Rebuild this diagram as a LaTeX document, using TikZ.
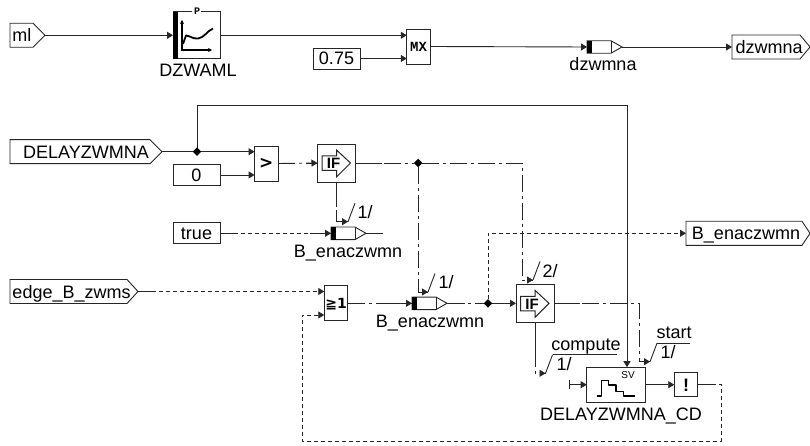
\documentclass[tikz,border=0pt]{standalone}
\usepackage{fontspec}
\setmainfont{Liberation Sans}
\newfontfamily\djv{DejaVu Sans}
\newfontfamily\lmono{Liberation Mono}
\usetikzlibrary{arrows.meta,shapes.geometric,calc}
\tikzset{
  x=1pt,y=-1pt,
  every node/.style={font=\fontsize{18}{20}\selectfont,inner sep=0pt,outer sep=0pt,text height=13pt,text depth=0pt},
  wire/.style={line width=0.9pt,draw=black!85},
  arr/.style={-{Stealth[length=6pt,width=7pt,inset=0pt]}},
  dashdot/.style={dash pattern=on 17pt off 4pt on 3pt off 4pt},
  dots/.style={dash pattern=on 4pt off 3pt},
  bx/.style={draw=black!85,line width=0.9pt,fill=white,minimum width=#1,rectangle},
  port/.style={rectangle,minimum height=24pt,minimum width=#1},
  mini/.style={font=\lmono\bfseries\fontsize{#1}{#1}\selectfont,text height=0.62*#1,text depth=0pt},
  junc/.style={diamond,fill=black,minimum size=8.5pt,text height=0pt},
  thickicon/.style={line width=1.8pt,line join=round},
  busline/.style={line width=0.9pt,draw=black!85},
}
\newcommand\pentagon[2]{\draw[wire,fill=white] (#1.north west) -- ([xshift=-#2pt]#1.north east) -- (#1.east) -- ([xshift=-#2pt]#1.south east) -- (#1.south west) -- cycle;}
\newcommand\regblock[3]{%
  \node[rectangle,minimum width=35pt,minimum height=12.5pt,text height=0pt,anchor=west] (#1) at (#2,#3) {};
  \draw[wire,fill=white] (#1.north west) -- ++(24,0) -- (#1.east) -- ($(#1.south west)+(24,0)$) -- (#1.south west) -- cycle;
  \draw[wire] ($(#1.north west)+(24,0)$) -- ($(#1.south west)+(24,0)$);
  \fill[black] (#1.north west) rectangle ($(#1.south west)+(5,0)$);
}
\newcommand\ifblock[3]{%
  \node[bx=38pt,minimum height=38pt,text height=0pt] (#1) at (#2,#3) {};
  \begin{scope}[shift={(#2,#3)}]
    \draw[wire,line width=1pt] (-14.5,-7) -- (0,-7) -- (0,-13) -- (14,0) -- (0,14) -- (0,7.5) -- (-14.5,7.5) -- cycle;
    \node[font=\bfseries\fontsize{15}{15}\selectfont,text height=10.5pt] at (-3,0.5) {IF};
  \end{scope}
}
\newcommand\busmark[1]{\draw[busline] (#1) -- ++(7,-18.5);}
\begin{document}
\begin{tikzpicture}
\useasboundingbox (0,0) rectangle (810,446);
\fill[white] (0,0) rectangle (810,446);

% ---- nodes
\node[port=35pt] (ml) at (27.5,35.3) {};
\pentagon{ml}{12}
\node[text width=30pt,align=left] at (27.5,35.3) {ml};

\node[bx=47pt,minimum height=47pt,text height=0pt] (map) at (196.5,35.3) {};
\fill[white] (192,10) rectangle (201,14);
\fill[black] (173,12) rectangle (178,59);
\node[mini=10] (mapp) at (197,11.5) {P};
\draw[-{Stealth[length=4pt,width=4pt]},line width=1.1pt] (182,51) -- (182,20);
\draw[-{Stealth[length=4pt,width=4pt]},line width=1.1pt] (182,50) -- (212,50);
\draw[thickicon] (183,44) -- (186,35.5) .. controls (191,36) and (192,39) .. (198,38.5) .. controls (204,38) and (207,31) .. (213,28.5);
\node (maplab) at (198,69.7) {DZWAML};

\node[bx=23.5pt,minimum height=35pt,text height=0pt] (mx) at (418.5,46.5) {};
\node[mini=14] at (418.5,47) {MX};
\node[bx=47pt,minimum height=21pt] (c075) at (336.5,58.5) {0.75};

\regblock{rega}{587}{47}
\node (regalab) at (603,64) {dzwmna};
\node[port=78pt] (outa) at (771,47) {};
\pentagon{outa}{10}
\node[text width=74pt,align=left] at (771.5,47) {\hspace*{1pt}dzwmna};

\node[port=152pt] (delay) at (86,151.7) {};
\pentagon{delay}{12}
\node at (86,151.7) {DELAYZWMNA};
\node[bx=47pt,minimum height=21pt] (zero) at (196.5,175) {0};
\node[bx=23.5pt,minimum height=35pt,text height=0pt] (gt) at (266.3,163.5) {};
\node[font=\djv\bfseries\fontsize{17}{17}\selectfont,text height=10pt] at (266.3,164) {>};
\ifblock{ifa}{336.5}{163}
\node[junc] (ja) at (418,163) {};

\node[bx=47pt,minimum height=21pt] (ctrue) at (196.5,233.3) {true};
\regblock{regb}{331}{233.3}
\node (regblab) at (348,251) {B\_enaczwmn};
\coordinate (regbend) at (383,233.3);

\node[port=128pt] (inedge) at (74,291.5) {};
\pentagon{inedge}{11}
\node[text width=123pt,align=left] at (74,291.5) {edge\_B\_zwms};
\node[bx=23.5pt,minimum height=35pt,text height=0pt] (ge) at (336,303.3) {};
\node[font=\djv\bfseries\fontsize{14}{14}\selectfont,text height=10pt] at (336,303.5) {≧1};
\regblock{regc}{412}{303.3}
\node (regclab) at (430,321) {B\_enaczwmn};
\node[junc] (jb) at (488,303.3) {};
\ifblock{ifb}{535}{303.3}
\node[port=124pt] (outb) at (748,233.3) {};
\pentagon{outb}{8}
\node at (746,233.3) {B\_enaczwmn};

\node[bx=59pt,minimum height=35pt,text height=0pt] (sv) at (616.2,384.7) {};
\node[font=\fontsize{10}{10}\selectfont,text height=7pt] at (628,375) {SV};
\draw[thickicon,line width=1.5pt] (596.7,396) -- (601.7,396) -- (601.7,380.7) -- (608.3,380.7) -- (608.3,385) -- (616,385) -- (616,391.7) -- (623.3,391.7) -- (623.3,396) -- (635,396);
\node (svlab) at (621,414) {DELAYZWMNA\_CD};
\node[bx=23.5pt,minimum height=24pt,text height=0pt] (chk) at (686,384.7) {};
\node[font=\bfseries\fontsize{18}{18}\selectfont,text height=13pt] at (686,385) {!};

% ---- free ends and bends
\coordinate (svin) at (569.3,384.7);
\coordinate (mka) at (348,221.7);
\coordinate (mkb) at (428,292);
\coordinate (mkc) at (533,280);
\coordinate (mkd) at (545.5,373.3);
\coordinate (mke) at (650,361.7);

% ---- connectors
\draw[wire,arr] (ml.east) -- (ml.east -| map.west);
\draw[wire,arr] (map.east) -- (map.east -| mx.west);
\draw[wire,arr] (c075.east) -- (c075.east -| mx.west);
\draw[wire,arr] (mx.east) -- (rega.west);
\draw[wire,arr] (rega.east) -- (outa.west);
\draw[wire] (delay.east) -- (197,151.7);
\draw[wire,arr] (197,151.7) -- (gt.west |- 0,151.7);
\draw[wire,arr] (zero.east) -- (zero.east -| gt.west);
\draw[wire,arr] (197,151.7) -- (197,105) -- (627,105) -- (627,367.2);
\node[junc] (jc) at (197,151.7) {};
\draw[wire,dashdot,arr] (gt.east) -- (ifa.west);
\draw[wire,dashdot] (ifa.east) -- (ja);
\draw[wire,dashdot] (ja) -- (522.7,163) -- (522.7,280) -- (mkc);
\draw[wire,dashdot] (ifa.south) -- (336.5,221.7) -- (mka);
\draw[wire,dashdot] (ja) -- (418,292) -- (mkb);
\draw[wire,dots,arr] (ctrue.east) -- (regb.west);
\draw[wire] (regb.east) -- (regbend);
\draw[wire,dots,arr] (inedge.east) -- (inedge.east -| ge.west);
\draw[wire,dashdot,arr] (ge.east) -- (regc.west);
\draw[wire,dashdot] (regc.east) -- (jb);
\draw[wire,arr] (jb) -- (ifb.west);
\draw[wire,dots,arr] (jb) -- (488,233.3) -- (outb.west);
\draw[wire,dashdot] (ifb.east) -- (639.3,303.3) -- (639.3,361.7) -- (mke);
\draw[wire,dashdot] (ifb.south) -- (535,373.3) -- (mkd);
\draw[wire,arr] (svin) -- (sv.west);
\draw[wire] ($(svin)+(0,-4.5)$) -- ($(svin)+(0,4.5)$);
\draw[wire,arr] (sv.east) -- (chk.west);
\draw[wire,dots,arr] (chk.east) -- (721,384.7) -- (721,441) -- (302,441) -- (302,315) -- (ge.west |- 0,315);

% ---- solid stubs where the broken lines leave and enter a block
\foreach \a/\l in {gt.east/17,ifa.east/26,ifb.east/26,ge.east/14,regc.east/18,chk.east/15,inedge.east/15,ctrue.east/15}
  \draw[wire] (\a) -- ++(\l,0);
\foreach \a/\l in {ifa.south/25,ifb.south/31}
  \draw[wire] (\a) -- ++(0,\l);
\foreach \a/\l in {ifa.west/12,regb.west/21,regc.west/19,ge.west/0}
  \draw[wire] (\a) -- ++(-\l,0);

% ---- bus marks
\foreach \p in {mka,mkb,mkc,mkd,mke}{
  \draw[wire,arr] ($(\p)+(-6,0)$) -- (\p);
  \busmark{\p}
}
\node (n1) at (365,212) {1/};
\node (n2) at (446,282) {1/};
\node (n3) at (550,271) {2/};
\node (n4) at (564,364) {1/};
\node (n5) at (668,352) {1/};
\draw[busline] ($(mkd)+(7,-18.5)$) -- (617,354.8);
\draw[busline] ($(mke)+(7,-18.5)$) -- (690,343.2);
\node (compute) at (586,344) {compute};
\node (start) at (674,332) {start};
\end{tikzpicture}
\end{document}
